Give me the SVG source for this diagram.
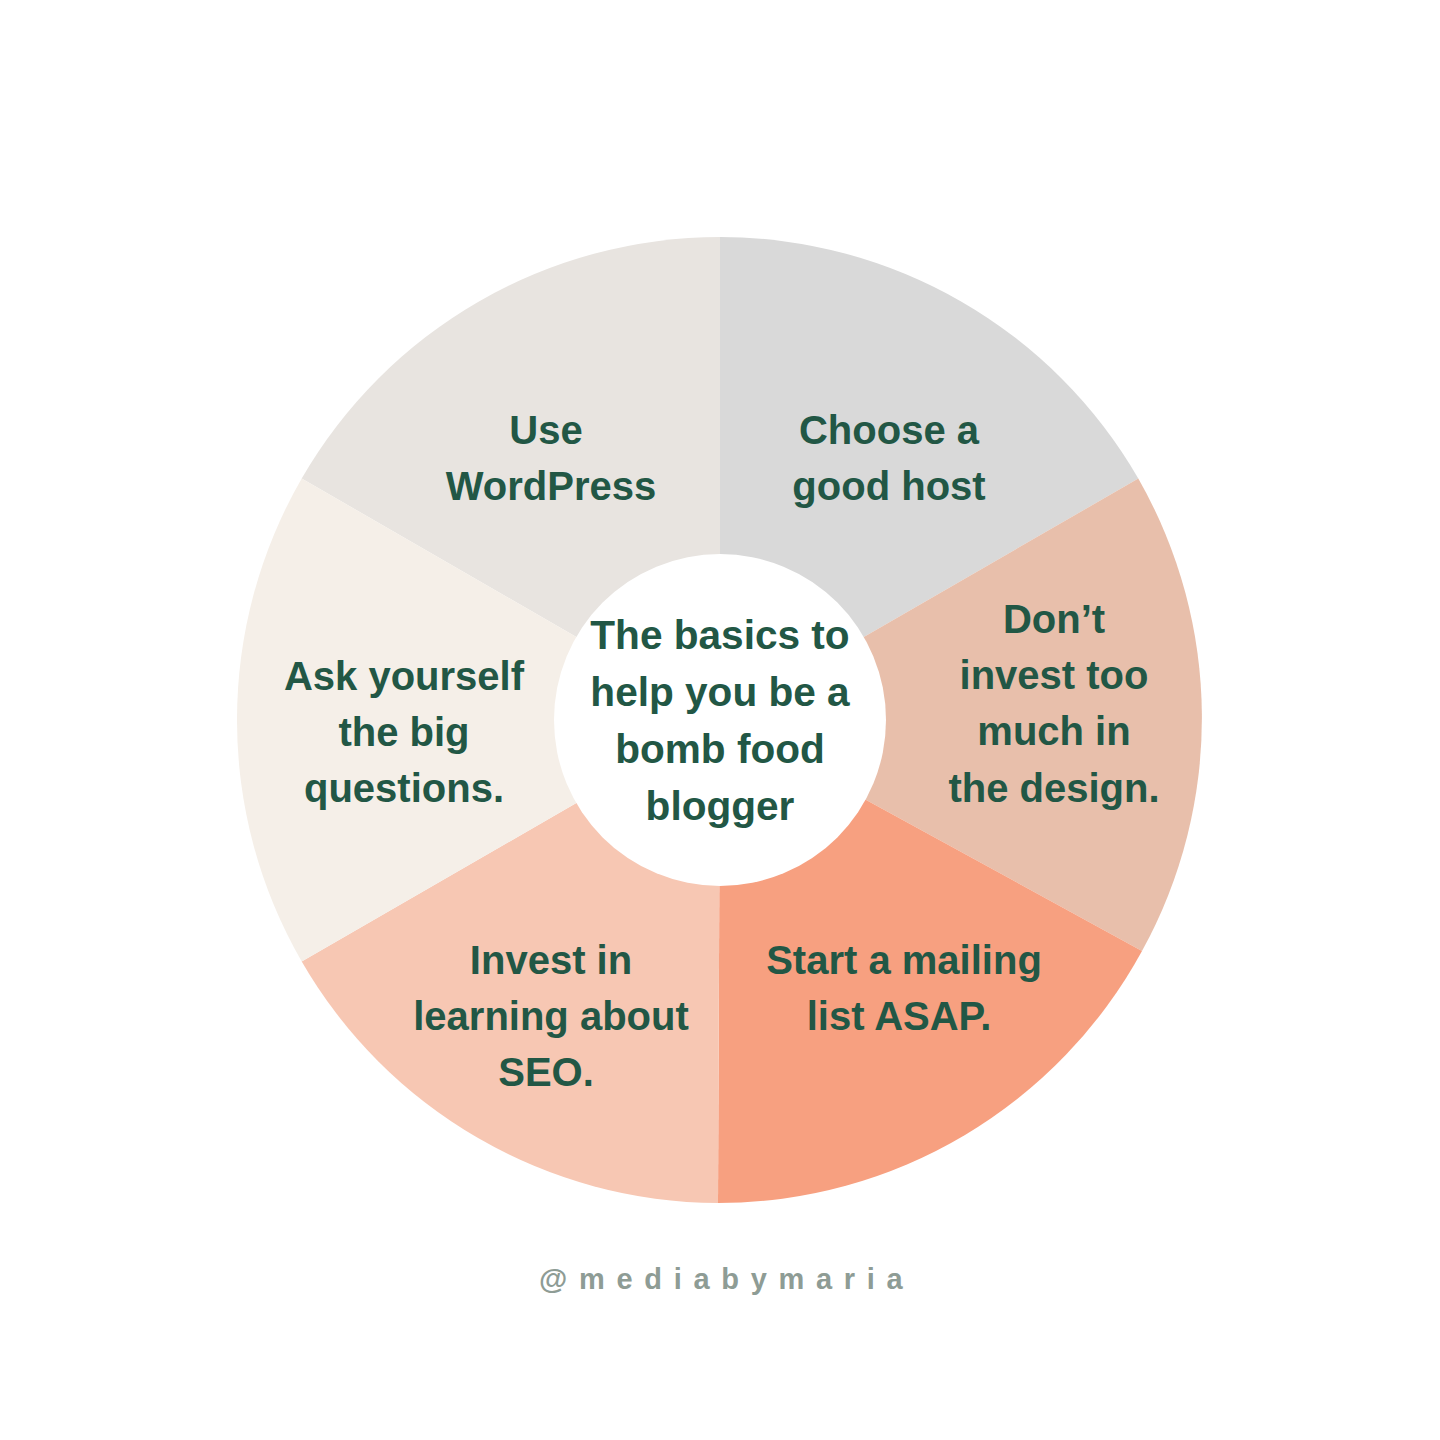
<svg xmlns="http://www.w3.org/2000/svg" width="1440" height="1440" viewBox="0 0 1440 1440">
<style>
.lbl{font-family:"Liberation Sans",Arial,sans-serif;font-weight:bold;font-size:40px;fill:#225745;text-anchor:middle}
.big{font-size:40.6px}
.wm{font-family:"Liberation Sans",Arial,sans-serif;font-weight:bold;font-size:29px;fill:#8E9C95;letter-spacing:11.7px}
</style>
<rect width="1440" height="1440" fill="#FFFFFF"/>
<g id="wedges">
<path id="seg-wordpress" d="M720,720 L720,237 A483,483 0 0 0 301.7,478.5 Z" fill="#E8E4E0"/>
<path id="seg-host" d="M720,720 L1138.3,478.5 A483,483 0 0 0 720,237 Z" fill="#D9D9D9"/>
<path id="seg-design" d="M720,720 L1138.3,478.5 A483,483 0 0 1 1142,951 Z" fill="#E8BFAB"/>
<path id="seg-mailing" d="M720,720 L1142,951 A483,483 0 0 1 718,1203 Z" fill="#F7A080"/>
<path id="seg-seo" d="M720,720 L718,1203 A483,483 0 0 1 301.7,961.5 Z" fill="#F7C7B3"/>
<path id="seg-ask" d="M720,720 L301.7,961.5 A483,483 0 0 1 301.7,478.5 Z" fill="#F5EFE8"/>
</g>
<g id="connectors"></g>
<g id="center">
<circle cx="720" cy="720" r="166" fill="#FFFFFF"/>
<text class="lbl big"><tspan x="720" y="649">The basics to</tspan><tspan x="720" y="706">help you be a</tspan><tspan x="720" y="763">bomb food</tspan><tspan x="720" y="820">blogger</tspan></text>
</g>
<g id="node-wordpress"><text class="lbl"><tspan x="546" y="444">Use</tspan><tspan x="551" y="500">WordPress</tspan></text></g>
<g id="node-host"><text class="lbl"><tspan x="889" y="444">Choose a</tspan><tspan x="889" y="500">good host</tspan></text></g>
<g id="node-design"><text class="lbl"><tspan x="1054" y="633">Don’t</tspan><tspan x="1054" y="689">invest too</tspan><tspan x="1054" y="745">much in</tspan><tspan x="1054" y="802">the design.</tspan></text></g>
<g id="node-mailing"><text class="lbl"><tspan x="904" y="974">Start a mailing</tspan><tspan x="899" y="1030">list ASAP.</tspan></text></g>
<g id="node-seo"><text class="lbl"><tspan x="551" y="974">Invest in</tspan><tspan x="551" y="1030">learning about</tspan><tspan x="546" y="1086">SEO.</tspan></text></g>
<g id="node-ask"><text class="lbl"><tspan x="404" y="690">Ask yourself</tspan><tspan x="404" y="746">the big</tspan><tspan x="404" y="802">questions.</tspan></text></g>
<text class="wm" x="539" y="1289">@mediabymaria</text>
</svg>
